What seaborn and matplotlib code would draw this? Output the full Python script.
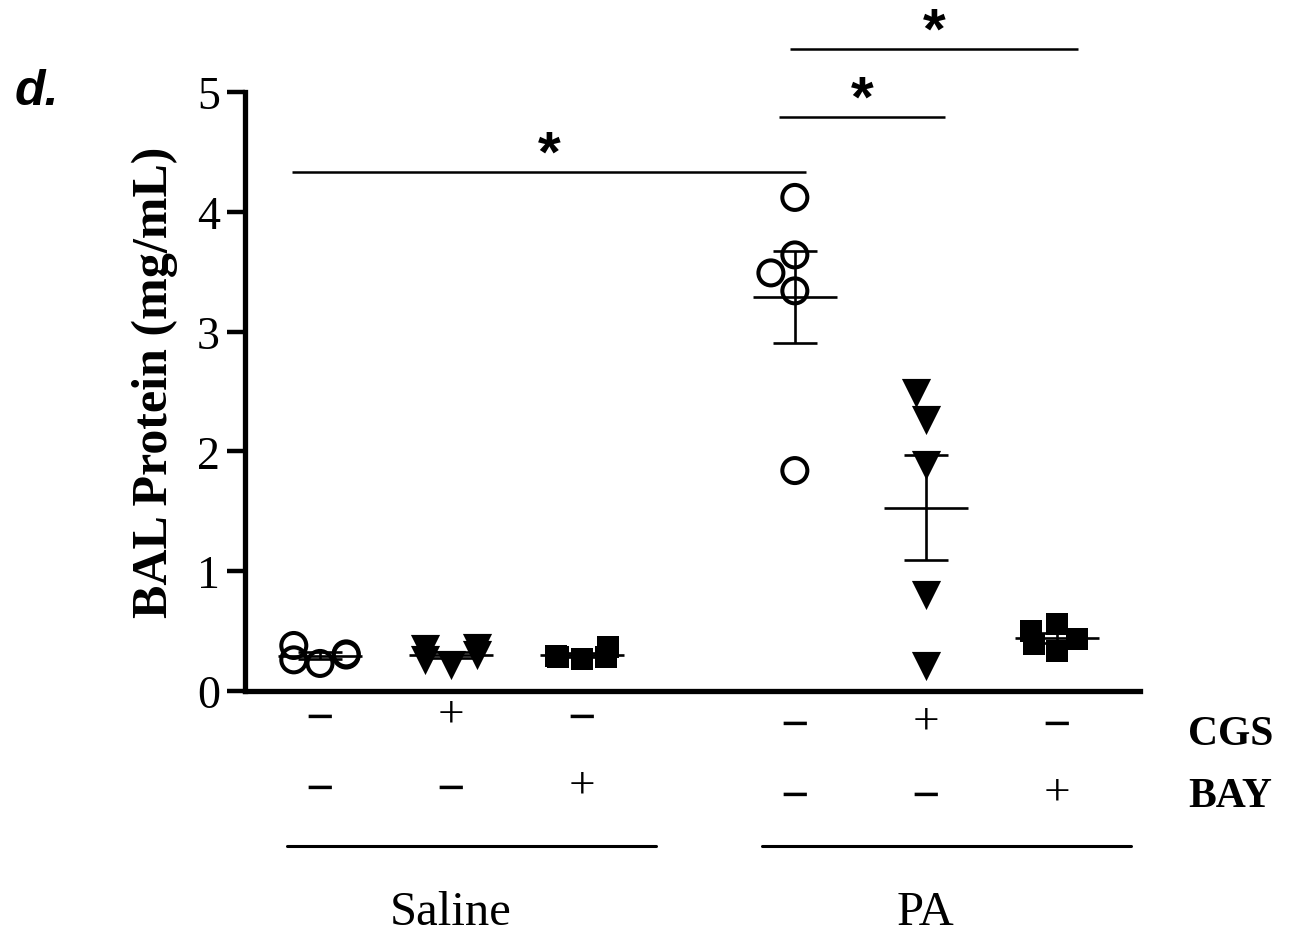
import numpy as np
import pandas as pd
import matplotlib
matplotlib.use("Agg")
import matplotlib.pyplot as plt
import matplotlib.transforms as mtransforms
import seaborn as sns

# BAL protein (mg/mL), one value per mouse
saline_vehicle = [0.38, 0.30, 0.23, 0.26, 0.31]
saline_cgs = [0.36, 0.35, 0.22, 0.26, 0.30]
saline_bay = [0.37, 0.29, 0.28, 0.27, 0.28]
pa_vehicle = [4.12, 3.64, 3.49, 3.34, 1.84]
pa_cgs = [2.49, 2.26, 1.89, 0.80, 0.21]
pa_bay = [0.56, 0.50, 0.43, 0.39, 0.33]

series = [saline_vehicle, saline_cgs, saline_bay, pa_vehicle, pa_cgs, pa_bay]
cgs_signs = ["−", "+", "−", "−", "+", "−"]
bay_signs = ["−", "−", "+", "−", "−", "+"]
group_names = ["Saline", "PA"]
row_names = ["CGS", "BAY"]
yticks = [0, 1, 2, 3, 4, 5]
ylabel = "BAL Protein (mg/mL)"
# pairwise comparisons marked significant: (group a, group b)
comparisons = [(0, 3), (3, 4), (3, 5)]

# ---- layout ----
W, H = 1290, 937
POS = [0, 2, 4, 7.25, 9.25, 11.25]
MARKERS = ["o", "v", "s", "o", "v", "s"]
MSIZE = {"o": 18, "v": 21, "s": 16.5}
MLW = {"o": 2.9, "v": 0, "s": 0}


def fy(px):
    return 1 - px / H


df = pd.DataFrame({
    "group": np.repeat(np.arange(len(series)), [len(s) for s in series]),
    "protein": np.concatenate(series),
})
df["x"] = df["group"].map(dict(enumerate(POS)))

sns.set_style("ticks")
plt.rcParams["font.family"] = ["Liberation Serif", "DejaVu Serif"]
plt.rcParams["text.color"] = "black"
plt.rcParams["axes.labelcolor"] = "black"
plt.rcParams["xtick.color"] = "black"
plt.rcParams["ytick.color"] = "black"
plt.rcParams["axes.edgecolor"] = "black"

fig = plt.figure(figsize=(W / 100, H / 100), dpi=100)
ax = fig.add_axes([245 / W, fy(692), (1140 - 245) / W, (692 - 93) / H])
ax.set_xlim(-1.145, 12.52)
ax.set_ylim(0, 5)
ax.set_autoscale_on(False)

# individual animals
for i, m in enumerate(MARKERS):
    sub = df[df["group"] == i]
    sns.swarmplot(data=sub, x="x", y="protein", native_scale=True, orient="x",
                  marker=m, size=MSIZE[m], color="black", edgecolor="black",
                  linewidth=MLW[m], warn_thresh=1, zorder=3, ax=ax)
    if m == "o":
        ax.collections[-1].set_facecolor("none")

# mean +/- SEM
for p, vals in zip(POS, series):
    mean = np.mean(vals)
    sem = np.std(vals, ddof=1) / np.sqrt(len(vals))
    ax.hlines(mean, p - 0.64, p + 0.64, color="black", lw=1.9, zorder=2)
    ax.errorbar(p, mean, yerr=sem, fmt="none", ecolor="black", elinewidth=1.9,
                capsize=15.5, capthick=1.9, zorder=2)

ax.set_xlim(-1.145, 12.52)
ax.set_ylim(0, 5)
ax.set_yticks(yticks)
ax.set_yticklabels([str(t) for t in yticks])
ax.tick_params(axis="y", length=13, width=3.2, labelsize=33, pad=5,
               direction="out", color="black", labelcolor="black")
ax.tick_params(axis="x", bottom=False, labelbottom=False)
sns.despine(ax=ax)
for s in ["left", "bottom"]:
    ax.spines[s].set_linewidth(3.8)
    ax.spines[s].set_color("black")
    ax.spines[s].set_capstyle("projecting")
ax.spines["left"].set_bounds(0, 5)
ax.set_xlabel("")
ax.set_ylabel(ylabel, fontsize=36, fontweight="bold", color="black")
ax.yaxis.set_label_coords(-0.0749, 0.5175)

# significance bars
bar_heights = [4.33, 4.79, 5.36]
bar_pad = [(-0.43, 0.17), (-0.24, 0.29), (-0.07, 0.32)]
for (a, b), h, (pl, pr) in zip(comparisons, bar_heights, bar_pad):
    x0, x1 = POS[a] + pl, POS[b] + pr
    ax.plot([x0, x1], [h, h], color="black", lw=1.8, clip_on=False,
            solid_capstyle="butt")
    ax.annotate("*", xy=((x0 + x1) / 2, h), xytext=(0, 1),
                textcoords="offset points", ha="center", va="baseline",
                fontsize=42, fontweight="bold", family="Liberation Sans",
                color="black", annotation_clip=False)

# treatment table under the axis
blend = mtransforms.blended_transform_factory(ax.transData, fig.transFigure)
row_y = {"CGS": (721, 728), "BAY": (792, 799)}
for name, signs in zip(row_names, [cgs_signs, bay_signs]):
    ys, yp = row_y[name]
    for i, (p, sgn) in enumerate(zip(POS, signs)):
        y = ys if i < 3 else yp
        if sgn == "+":
            ax.text(p, fy(y - 6), sgn, transform=blend, ha="center", va="center",
                    fontsize=34, color="black")
        else:
            ax.text(p, fy(y), sgn, transform=blend, ha="center", va="center",
                    fontsize=36, fontweight="bold", color="black")

ax.text(13.25, fy(745), "CGS", transform=blend, ha="left", va="baseline",
        fontsize=30, fontweight="bold", color="black")
ax.text(13.25, fy(807), "BAY", transform=blend, ha="left", va="baseline",
        fontsize=30, fontweight="bold", color="black")

for k, name in enumerate(group_names):
    idx = [0, 1, 2] if k == 0 else [3, 4, 5]
    x0, x1 = POS[idx[0]] - 0.5, POS[idx[-1]] + 1.13
    ax.plot([x0, x1], [fy(847), fy(847)], transform=blend, color="black",
            lw=2.2, clip_on=False)
    ax.text(np.mean([POS[j] for j in idx]), fy(925), name, transform=blend,
            ha="center", va="baseline", fontsize=35, color="black")

fig.text(15 / W, fy(105), "d.", ha="left", va="baseline", fontsize=36,
         fontweight="bold", fontstyle="italic", family="Liberation Sans",
         color="black")

fig.savefig("out.png", dpi=100, facecolor="white")
